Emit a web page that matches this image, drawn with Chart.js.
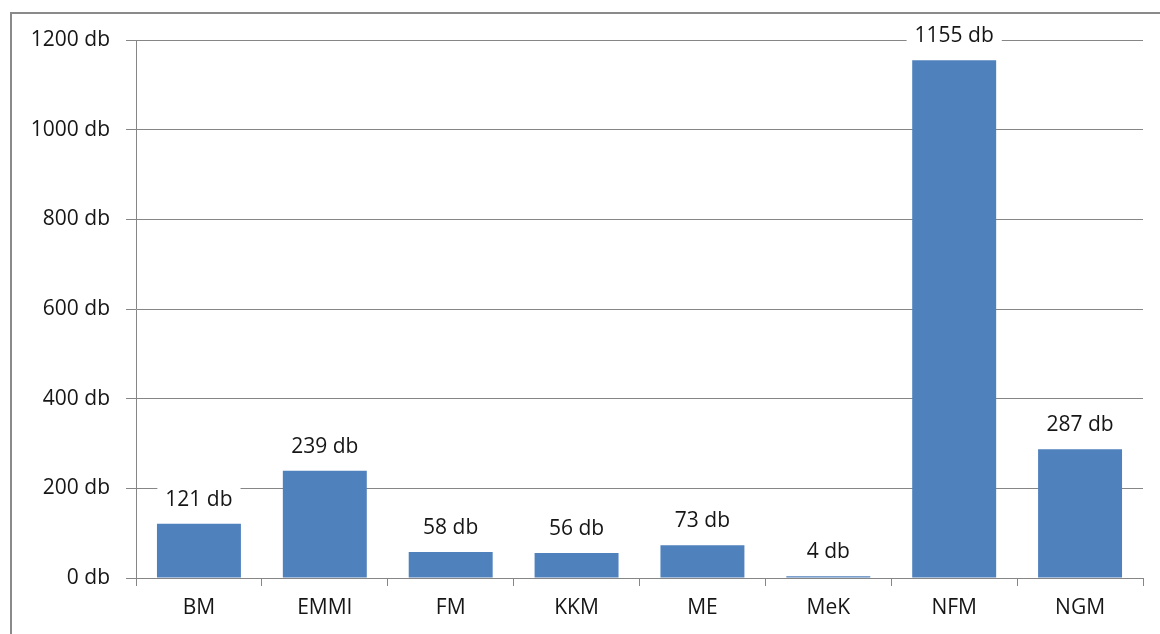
<!DOCTYPE html>
<html>
<head>
<meta charset="utf-8">
<script src="https://cdn.jsdelivr.net/npm/chart.js@4"></script>
<style>
  html, body { margin: 0; padding: 0; background: #fff; }
  #wrap { position: relative; width: 1160px; height: 634px; overflow: hidden; }
  #frame { position: absolute; left: 10px; top: 12px; width: 1160px; height: 640px;
           border: 2px solid #8a8a8a; box-sizing: border-box; }
  canvas { position: absolute; left: 0; top: 0; }
</style>
</head>
<body>
<div id="wrap">
  <div id="frame"></div>
  <canvas id="chart" width="1160" height="634"></canvas>
</div>
<script>
// kategóriák és értékek
var categories = ["BM", "EMMI", "FM", "KKM", "ME", "MeK", "NFM", "NGM"];
var values = [121, 239, 58, 56, 73, 4, 1155, 287];
var yTicks = [0, 200, 400, 600, 800, 1000, 1200];

var fontFamily = "'Open Sans', sans-serif";
var textColor = "#161616";
var lineColor = "#868686";

// érték címkék a bárok fölött, fehér háttérrel
var valueLabels = {
  id: "valueLabels",
  afterDatasetsDraw: function(chart) {
    var ctx = chart.ctx;
    var meta = chart.getDatasetMeta(0);
    ctx.save();
    ctx.font = "21px " + fontFamily;
    ctx.textAlign = "center";
    ctx.textBaseline = "middle";
    meta.data.forEach(function(bar, i) {
      var txt = values[i] + " db";
      var w = ctx.measureText(txt).width;
      var y = bar.y - 24;
      ctx.fillStyle = "#fff";
      ctx.fillRect(bar.x - w / 2 - 8, y - 12, w + 16, 24);
      ctx.fillStyle = textColor;
      ctx.fillText(txt, bar.x, y);
    });
    ctx.restore();
  }
};

var ctxBar = document.getElementById("chart").getContext("2d");
var chart = new Chart(ctxBar, {
  type: "bar",
  data: {
    labels: categories,
    datasets: [{
      data: values,
      backgroundColor: "#4f81bd",
      borderWidth: 0,
      barPercentage: 0.667,
      categoryPercentage: 1.0
    }]
  },
  options: {
    responsive: false,
    animation: false,
    devicePixelRatio: 1,
    layout: { padding: { left: 0, top: 40, right: 17, bottom: 0 } },
    plugins: { legend: { display: false }, tooltip: { enabled: false } },
    scales: {
      x: {
        grid: { drawOnChartArea: false, drawTicks: true, tickLength: 8, color: lineColor },
        border: { color: lineColor, width: 1 },
        ticks: { color: textColor, font: { family: fontFamily, size: 21 }, padding: 9 },
        afterFit: function(scale) { scale.height = 56; }
      },
      y: {
        min: 0,
        max: 1200,
        afterBuildTicks: function(scale) {
          scale.ticks = yTicks.map(function(v) { return { value: v }; });
        },
        grid: { color: lineColor, tickLength: 10 },
        border: { color: lineColor, width: 1 },
        ticks: {
          color: textColor,
          font: { family: fontFamily, size: 21 },
          padding: 16,
          callback: function(v) { return v + " db"; }
        },
        afterFit: function(scale) { scale.width = 136; }
      }
    }
  },
  plugins: [valueLabels]
});
</script>
</body>
</html>
